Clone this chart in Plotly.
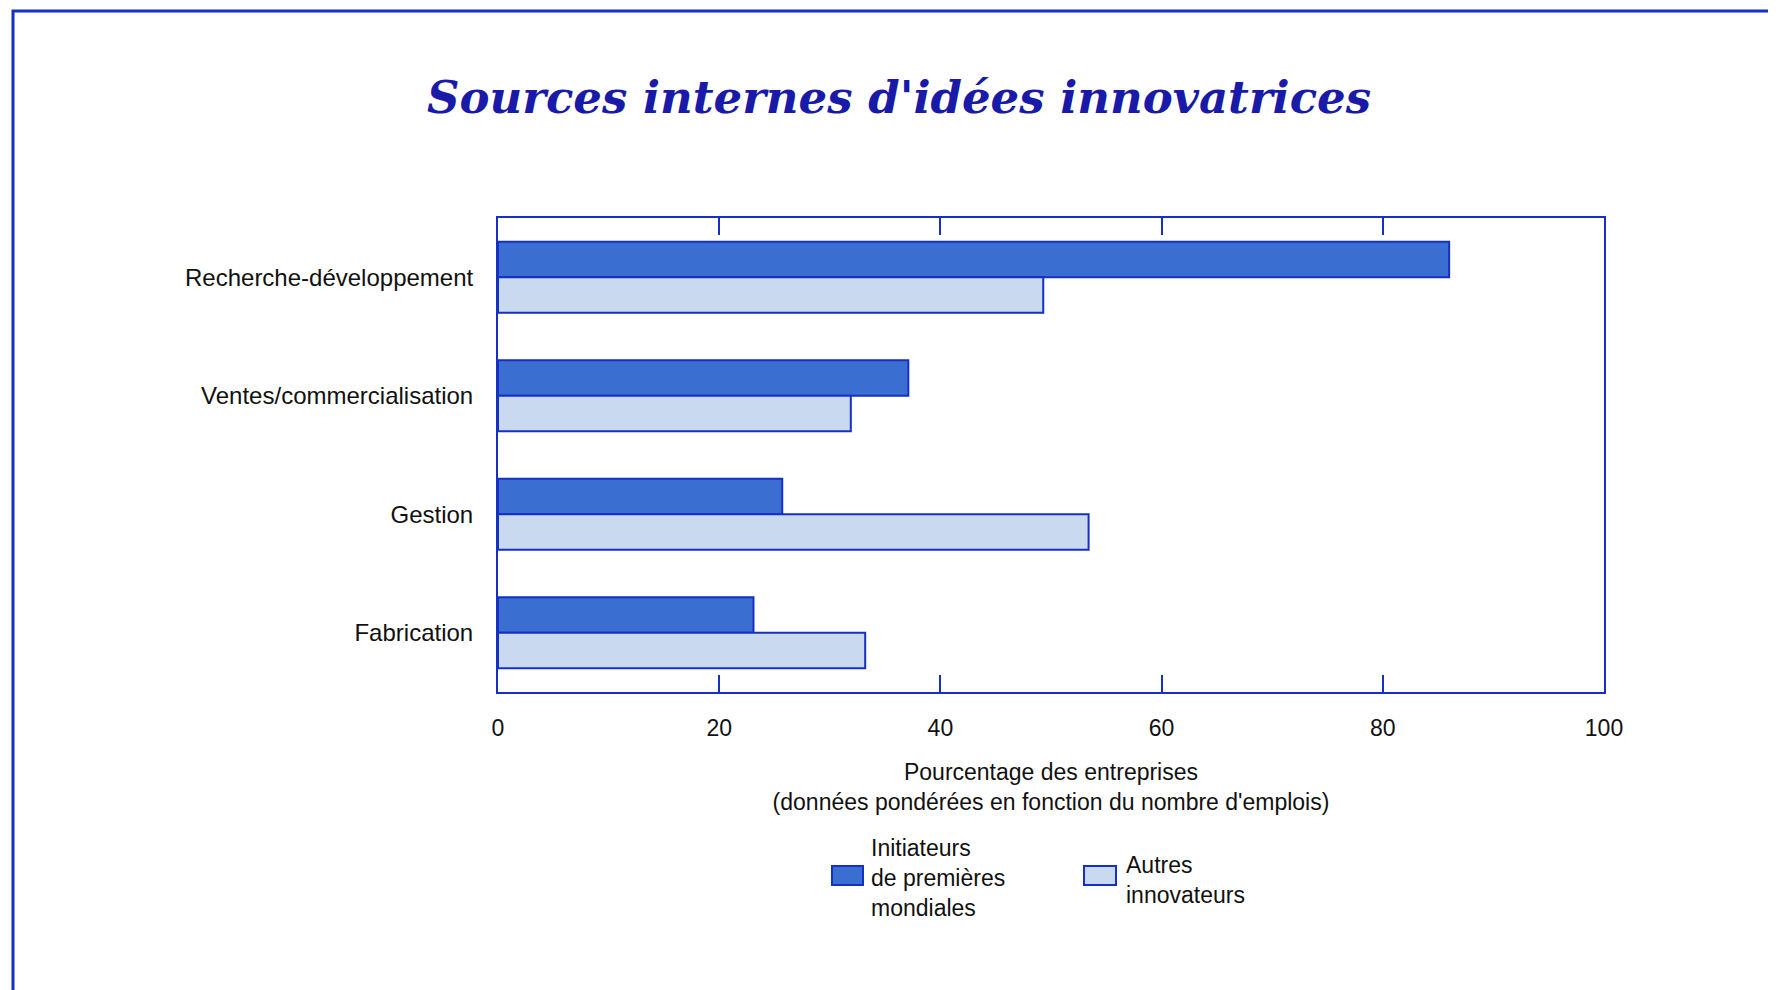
import plotly.graph_objects as go

categories = ["Recherche-développement", "Ventes/commercialisation", "Gestion", "Fabrication"]
initiateurs = [86.0, 37.1, 25.7, 23.1]
autres = [49.3, 31.9, 53.4, 33.2]
x_ticks = [0, 20, 40, 60, 80, 100]
legend_names = ["Initiateurs<br>de premières<br>mondiales", "Autres<br>innovateurs"]

BLUE = "#1530c4"
DARK = "#3a6ed0"
LIGHT = "#c9d9ef"

W, H = 1776, 990
O = 8  # page body margin offset
L, T = 498 - O, 218 - O
R = W - (1604 - O)
B = H - (692 - O)
pw, ph = W - L - R, H - T - B


def px(xp):
    return (xp - O - L) / pw


def py(yp):
    return (H - B - (yp - O)) / ph


fig = go.Figure()
fig.add_trace(go.Bar(
    y=categories, x=initiateurs, orientation="h",
    name=legend_names[0],
    marker=dict(color=DARK, line=dict(color=BLUE, width=2)),
))
fig.add_trace(go.Bar(
    y=categories, x=autres, orientation="h",
    name=legend_names[1],
    marker=dict(color=LIGHT, line=dict(color=BLUE, width=2)),
))

fig.update_layout(
    width=W, height=H,
    margin=dict(l=L, r=R, t=T, b=B, autoexpand=False),
    paper_bgcolor="white", plot_bgcolor="white",
    barmode="group", bargap=0.4, bargroupgap=0,
    showlegend=False,
    font=dict(family="Liberation Sans, Arial, sans-serif", size=24, color="#111111"),
    title=dict(
        text="Sources internes d'idées innovatrices",
        font=dict(family="DejaVu Serif", size=45, color="#1a1aa8", style="italic", weight="bold"),
        x=px(899), xanchor="center", xref="paper",
        y=1 - (97 - O) / H, yanchor="middle", yref="container",
    ),
    xaxis=dict(
        range=[0, 100], tickvals=x_ticks, showgrid=False, zeroline=False,
        showline=True, linecolor=BLUE, linewidth=2, mirror="ticks",
        ticks="inside", ticklen=17, tickwidth=2, tickcolor=BLUE,
        ticklabelstandoff=14, tickfont=dict(size=23),
        title=dict(
            text="Pourcentage des entreprises<br>(données pondérées en fonction du nombre d'emplois)",
            font=dict(size=23), standoff=24,
        ),
    ),
    yaxis=dict(
        autorange="reversed", showgrid=False, zeroline=False,
        showline=True, linecolor=BLUE, linewidth=2, mirror=True,
        ticks="", ticklabelstandoff=18,
        tickfont=dict(size=24),
    ),
)

# Legend drawn manually to match the large swatches
swatch = [(832, 863, DARK, 869, 878), (1084, 1116, LIGHT, 1124, 880)]
for (x0, x1, col, tx, ty), name in zip(swatch, legend_names):
    fig.add_shape(type="rect", xref="paper", yref="paper",
                  x0=px(x0), x1=px(x1), y0=py(866), y1=py(885),
                  fillcolor=col, line=dict(color=BLUE, width=2))
    fig.add_annotation(x=px(tx), y=py(ty), xref="paper", yref="paper",
                       xanchor="left", yanchor="middle", align="left",
                       text=name, showarrow=False,
                       font=dict(size=23, color="#111111"))

# outer frame
fig.add_shape(type="rect", xref="paper", yref="paper",
              x0=px(13), x1=px(W + 30), y0=py(11), y1=py(H + 30),
              line=dict(color=BLUE, width=3), layer="below")

fig.write_html("out.html")
